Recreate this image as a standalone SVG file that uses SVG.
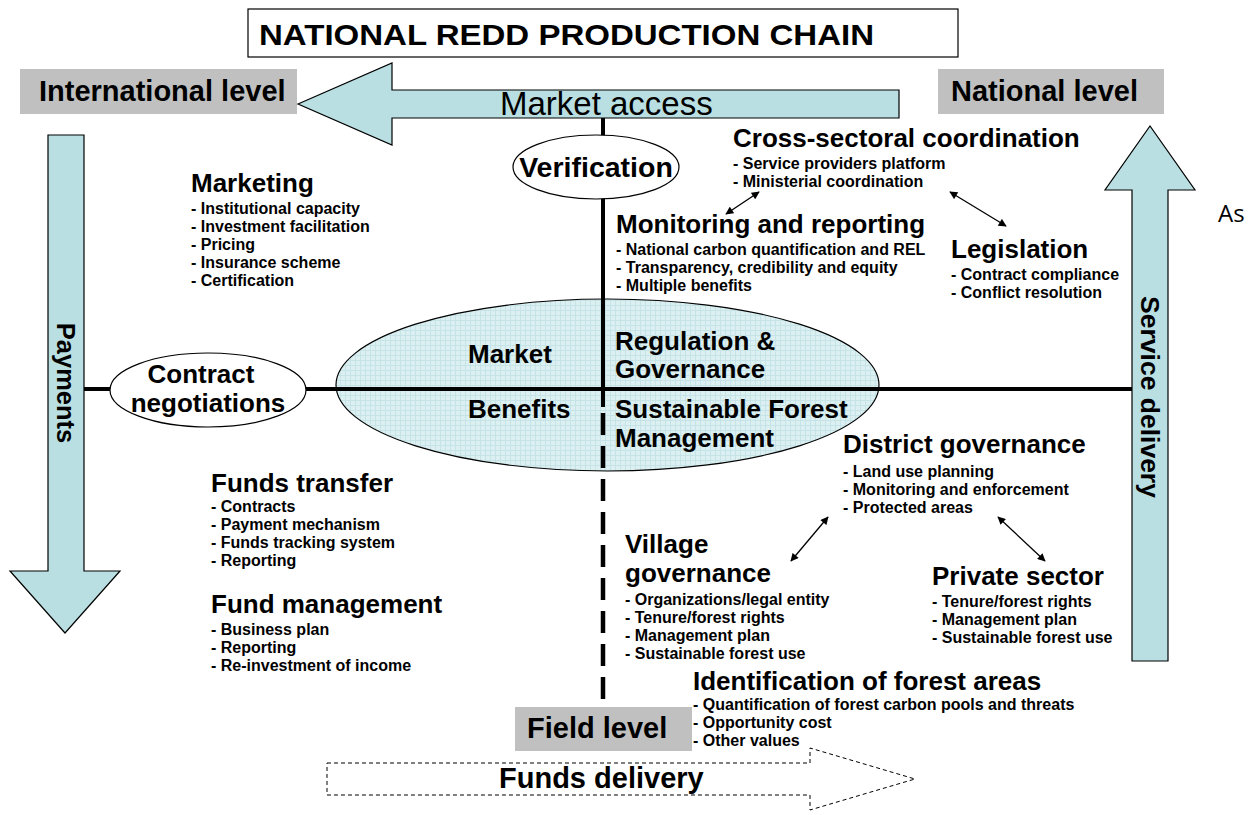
<svg xmlns="http://www.w3.org/2000/svg" width="1257" height="815" viewBox="0 0 1257 815">
  <style>
    text { font-family: "Liberation Sans", Arial, Helvetica, sans-serif; fill: #000; }
    .h { font-size: 26px; font-weight: bold; }
    .it { font-size: 16px; font-weight: bold; }
    .lvl { font-size: 29px; font-weight: bold; }
    .band { fill: #b9dfe2; stroke: #000; stroke-width: 1.2; }
    .gray { fill: #c0c0c0; }
    .axis { stroke: #000; stroke-width: 4; fill: none; }
    .dash { stroke: #000; stroke-width: 4.5; fill: none; stroke-dasharray: 22 11; }
    .link { stroke: #000; stroke-width: 1.3; fill: none; marker-start: url(#ah); marker-end: url(#ah); }
  </style>
  <defs>
    <marker id="ah" viewBox="0 0 10 10" refX="9" refY="5" markerWidth="9" markerHeight="8" orient="auto-start-reverse" markerUnits="userSpaceOnUse">
      <path d="M0,0 L10,5 L0,10 z" fill="#000"/>
    </marker>
    <pattern id="grid" width="5" height="5" patternUnits="userSpaceOnUse">
      <rect width="5" height="5" fill="#dcf0f2"/>
      <path d="M0,0.5 H5 M0.5,0 V5" stroke="#c6e3e7" stroke-width="1"/>
    </pattern>
  </defs>

  <rect width="1257" height="815" fill="#fff"/>

  <!-- title -->
  <g id="title">
    <rect x="248" y="9" width="710" height="48" fill="#fff" stroke="#000" stroke-width="1.2"/>
    <text x="259" y="45" style="font-size:30px;font-weight:bold" textLength="615" lengthAdjust="spacingAndGlyphs">NATIONAL REDD PRODUCTION CHAIN</text>
  </g>

  <!-- level labels -->
  <g id="international-level">
    <rect class="gray" x="20" y="69" width="277" height="45"/>
    <text class="lvl" x="39" y="101">International level</text>
  </g>
  <g id="national-level">
    <rect class="gray" x="938" y="69" width="226" height="45"/>
    <text class="lvl" x="951" y="101">National level</text>
  </g>

  <!-- band arrows -->
  <g id="market-access">
    <polygon class="band" points="298,104 392,63 392,90 899,90 899,118 392,118 392,145"/>
    <text x="500" y="115" style="font-size:33px">Market access</text>
  </g>
  <g id="payments">
    <polygon class="band" points="48,135 84,135 84,571 120,571 65,633 10,571 48,571"/>
    <text transform="translate(57,383) rotate(90)" text-anchor="middle" style="font-size:25.5px;font-weight:bold">Payments</text>
  </g>
  <g id="service-delivery">
    <polygon class="band" points="1132,661 1168,661 1168,190 1195,190 1150,126 1105,190 1132,190"/>
    <text transform="translate(1141,397) rotate(90)" text-anchor="middle" style="font-size:26.5px;font-weight:bold">Service delivery</text>
  </g>
  <g id="funds-delivery">
    <polygon points="327,763 810,763 810,748 915,779 810,810 810,795 327,795" fill="#fff" stroke="#000" stroke-width="1" stroke-dasharray="4,3"/>
    <text class="lvl" x="499" y="788">Funds delivery</text>
  </g>

  <!-- central ellipse -->
  <g id="core">
    <ellipse cx="607.5" cy="385" rx="271.5" ry="86" fill="url(#grid)" stroke="#000" stroke-width="1.2"/>
  </g>

  <!-- connectors -->
  <g id="connectors">
    <line class="axis" x1="84" y1="389" x2="1132" y2="389"/>
    <line class="axis" x1="603" y1="118" x2="603" y2="407"/>
    <line class="dash" x1="603" y1="413" x2="603" y2="745"/>
    <line class="link" x1="759" y1="192" x2="726" y2="214"/>
    <line class="link" x1="950" y1="192" x2="1006" y2="226"/>
    <line class="link" x1="828" y1="517" x2="791" y2="561"/>
    <line class="link" x1="998" y1="517" x2="1045" y2="561"/>
  </g>

  <g id="core-labels">
    <text class="h" x="468" y="363">Market</text>
    <text class="h" x="468" y="418">Benefits</text>
    <text class="h" x="615" y="350">Regulation &amp;</text>
    <text class="h" x="615" y="378">Governance</text>
    <text class="h" x="615" y="418">Sustainable Forest</text>
    <text class="h" x="615" y="447">Management</text>
  </g>

  <g id="verification">
    <ellipse cx="596" cy="167" rx="83" ry="32" fill="#fff" stroke="#000" stroke-width="1.2"/>
    <text x="596" y="177" text-anchor="middle" style="font-size:28.5px;font-weight:bold">Verification</text>
  </g>

  <g id="contract-negotiations">
    <ellipse cx="208" cy="390" rx="98" ry="37" fill="#fff" stroke="#000" stroke-width="1.2"/>
    <text class="h" x="201" y="383" text-anchor="middle">Contract</text>
    <text class="h" x="208" y="412" text-anchor="middle">negotiations</text>
  </g>

  <!-- activity blocks -->
  <g id="marketing">
    <text class="h" x="191" y="192">Marketing</text>
    <text class="it" x="191" y="214">- Institutional capacity</text>
    <text class="it" x="191" y="232">- Investment facilitation</text>
    <text class="it" x="191" y="250">- Pricing</text>
    <text class="it" x="191" y="268">- Insurance scheme</text>
    <text class="it" x="191" y="286">- Certification</text>
  </g>

  <g id="cross-sectoral">
    <text class="h" x="733" y="147">Cross-sectoral coordination</text>
    <text class="it" x="733" y="169">- Service providers platform</text>
    <text class="it" x="733" y="187">- Ministerial coordination</text>
  </g>

  <g id="monitoring">
    <text class="h" x="616" y="233">Monitoring and reporting</text>
    <text class="it" x="616" y="255">- National carbon quantification and REL</text>
    <text class="it" x="616" y="273">- Transparency, credibility and equity</text>
    <text class="it" x="616" y="291">- Multiple benefits</text>
  </g>

  <g id="legislation">
    <text class="h" x="951" y="258">Legislation</text>
    <text class="it" x="951" y="280">- Contract compliance</text>
    <text class="it" x="951" y="298">- Conflict resolution</text>
  </g>

  <g id="funds-transfer">
    <text class="h" x="211" y="492">Funds transfer</text>
    <text class="it" x="211" y="512">- Contracts</text>
    <text class="it" x="211" y="530">- Payment mechanism</text>
    <text class="it" x="211" y="548">- Funds tracking system</text>
    <text class="it" x="211" y="566">- Reporting</text>
  </g>

  <g id="fund-management">
    <text class="h" x="211" y="613">Fund management</text>
    <text class="it" x="211" y="635">- Business plan</text>
    <text class="it" x="211" y="653">- Reporting</text>
    <text class="it" x="211" y="671">- Re-investment of income</text>
  </g>

  <g id="district-governance">
    <text class="h" x="843" y="453">District governance</text>
    <text class="it" x="843" y="477">- Land use planning</text>
    <text class="it" x="843" y="495">- Monitoring and  enforcement</text>
    <text class="it" x="843" y="513">- Protected areas</text>
  </g>

  <g id="village-governance">
    <text class="h" x="625" y="553">Village</text>
    <text class="h" x="625" y="582">governance</text>
    <text class="it" x="625" y="605">- Organizations/legal entity</text>
    <text class="it" x="625" y="623">- Tenure/forest rights</text>
    <text class="it" x="625" y="641">- Management plan</text>
    <text class="it" x="625" y="659">- Sustainable forest use</text>
  </g>

  <g id="private-sector">
    <text class="h" x="932" y="585">Private sector</text>
    <text class="it" x="932" y="607">- Tenure/forest rights</text>
    <text class="it" x="932" y="625">- Management plan</text>
    <text class="it" x="932" y="643">- Sustainable forest use</text>
  </g>

  <g id="identification">
    <text class="h" x="693" y="690">Identification of forest areas</text>
    <text class="it" x="693" y="710">- Quantification of forest carbon pools and threats</text>
    <text class="it" x="693" y="728">- Opportunity cost</text>
    <text class="it" x="693" y="746">- Other values</text>
  </g>

  <g id="field-level">
    <rect class="gray" x="515" y="707" width="177" height="44"/>
    <text class="lvl" x="527" y="738">Field level</text>
  </g>

  <text x="1218" y="222" style="font-family:'Open Sans','Liberation Sans',sans-serif;font-size:24px">As</text>
</svg>
